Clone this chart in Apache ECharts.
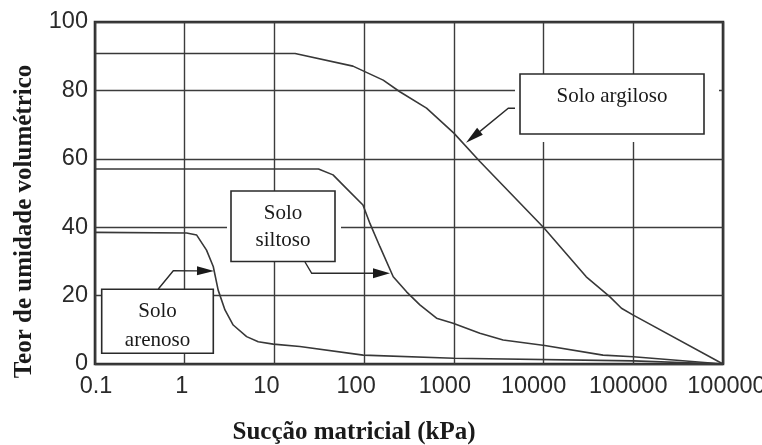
<!DOCTYPE html>
<html><head><meta charset="utf-8">
<script src="https://cdn.jsdelivr.net/npm/echarts@6/dist/echarts.min.js"></script>
<style>html,body{margin:0;padding:0;background:#fff}#c{width:762px;height:445px}</style>
</head><body><div id="c"></div>
<script>
// ---- data ----
const xTickLabels = ['0.1','1','10','100','1000','10000','100000','1000000'];
const yTickValues = [0, 20, 40, 60, 80, 100];

const suctionArgiloso  = [0.1, 17, 75, 163, 250, 496, 1000, 1950, 10000, 29900, 54600, 73800, 100000, 1000000];
const moistureArgiloso = [90.8, 90.8, 87.1, 83.0, 79.6, 74.8, 67.5, 59.2, 39.9, 25.5, 19.7, 16.3, 14.3, 0];

const suctionSiltoso  = [0.1, 31, 45, 61, 97, 116, 150, 211, 297, 418, 641, 980, 1950, 3540, 10300, 46000, 100000, 1000000];
const moistureSiltoso = [57.0, 57.0, 55.3, 51.8, 46.5, 41.1, 34.3, 25.5, 21.1, 17.3, 13.4, 11.9, 9.0, 7.0, 5.4, 2.6, 2.1, 0];

const suctionArenoso  = [0.1, 1.05, 1.36, 1.75, 2.08, 2.36, 2.81, 3.47, 4.9, 6.6, 9.7, 19.2, 97.5, 1000, 100000, 1000000];
const moistureArenoso = [38.5, 38.3, 37.7, 33.3, 28.5, 21.6, 15.8, 11.4, 8.0, 6.5, 5.8, 5.1, 2.6, 1.7, 0.9, 0];

const seriesNames = ['Solo argiloso', 'Solo siltoso', 'Solo arenoso'];
const xTitle = 'Sucção matricial (kPa)';
const yTitle = 'Teor de umidade volumétrico';

function pairs(xs, ys) { return xs.map((x, i) => [x, ys[i]]); }

// ---- layout: horizontal nudge of each x tick label (px) ----
const xLabelNudge = [1, -3, -8, -8, -9, -10, -5, 10];
const tickFont = { fontFamily: '"Liberation Sans", Arial, sans-serif', fontSize: 23.5, color: '#2a2a2a' };
const xRich = {};
xLabelNudge.forEach((s, i) => {
  xRich['n' + i] = Object.assign({ padding: s >= 0 ? [0, 0, 0, 2 * s] : [0, -2 * s, 0, 0] }, tickFont);
});

// ---- annotation helpers (layout only) ----
function arrowHead(tip, from, len, half) {
  const dx = from[0] - tip[0], dy = from[1] - tip[1];
  const d = Math.hypot(dx, dy), ux = dx / d, uy = dy / d;
  const bx = tip[0] + ux * len, by = tip[1] + uy * len;
  return { base: [bx, by], pts: [tip, [bx - uy * half, by + ux * half], [bx + uy * half, by - ux * half]] };
}
const ink = '#2a2a2a';
const boxFont = '21px "Liberation Serif", "Times New Roman", serif';
function rect(x, y, w, h, stroke) {
  return { type: 'rect', z: 100, shape: { x, y, width: w, height: h },
    style: { fill: '#fff', stroke: stroke ? ink : null, lineWidth: stroke ? 1.6 : 0 } };
}
function label(text, x, y, font, rot) {
  return { type: 'text', z: 101, x, y, rotation: rot || 0,
    style: { text, font, fill: '#1a1a1a', align: 'center', verticalAlign: 'middle' } };
}
function leader(points, tip, len, half) {
  const a = arrowHead(tip, points[points.length - 1], len, half);
  return [
    { type: 'polyline', z: 101, shape: { points: points.concat([a.base]) }, style: { stroke: ink, lineWidth: 1.4, fill: null } },
    { type: 'polygon', z: 102, shape: { points: a.pts }, style: { fill: '#1a1a1a' } }
  ];
}

const graphics = [].concat(
  // Solo argiloso
  [rect(515, 74, 204, 68, false), rect(520, 74, 184, 60, true), label('Solo argiloso', 612, 96, boxFont)],
  leader([[515, 108.3], [508.3, 108.3]], [466, 142.7], 18, 4.5),
  // Solo siltoso
  [rect(227, 191, 114, 71, false), rect(231, 191, 104, 70.5, true),
   label('Solo', 283, 213, boxFont), label('siltoso', 283, 240.7, boxFont)],
  leader([[305, 262], [311.7, 273.3]], [390, 273.3], 17, 5),
  // Solo arenoso
  [rect(101.7, 289.3, 111.6, 64, true), label('Solo', 157.5, 311.7, boxFont), label('arenoso', 157.5, 340, boxFont)],
  leader([[158.3, 289], [173.3, 270.7]], [214, 271], 17, 4.5),
  // axis titles
  [label(xTitle, 354, 433, 'bold 25px "Liberation Serif", "Times New Roman", serif'),
   label(yTitle, 25, 221.5, 'bold 25px "Liberation Serif", "Times New Roman", serif', Math.PI / 2)]
);

const lineStyle = { color: '#383838', width: 1.6 };
const gridLine = { show: true, lineStyle: { color: '#3c3c3c', width: 1.4 } };

const chart = echarts.init(document.getElementById('c'), null, { renderer: 'canvas' });
chart.setOption({
  animation: false,
  backgroundColor: '#fff',
  grid: { left: 95, right: 39, top: 22, bottom: 81, show: true, borderColor: '#2e2e2e', borderWidth: 2.6,
          containLabel: false, outerBoundsMode: 'none' },
  xAxis: {
    type: 'log', logBase: 10, min: 0.1, max: 1000000, interval: 1,
    axisLine: { show: false }, axisTick: { show: false },
    splitLine: gridLine, minorSplitLine: { show: false },
    axisLabel: Object.assign({ margin: 11, showMaxLabel: true, showMinLabel: true, hideOverlap: false,
      rich: xRich,
      formatter: v => { const i = Math.round(Math.log10(v)) + 1; return '{n' + i + '|' + xTickLabels[i] + '}'; } }, tickFont)
  },
  yAxis: {
    type: 'value', min: yTickValues[0], max: yTickValues[yTickValues.length - 1], interval: 20,
    axisLine: { show: false }, axisTick: { show: false },
    splitLine: gridLine,
    axisLabel: Object.assign({ margin: 7 }, tickFont)
  },
  series: [
    { name: seriesNames[0], type: 'line', data: pairs(suctionArgiloso, moistureArgiloso), showSymbol: false, symbol: 'none', lineStyle, z: 5 },
    { name: seriesNames[1], type: 'line', data: pairs(suctionSiltoso, moistureSiltoso), showSymbol: false, symbol: 'none', lineStyle, z: 5 },
    { name: seriesNames[2], type: 'line', data: pairs(suctionArenoso, moistureArenoso), showSymbol: false, symbol: 'none', lineStyle, z: 5 }
  ],
  graphic: { elements: graphics }
});
</script></body></html>
